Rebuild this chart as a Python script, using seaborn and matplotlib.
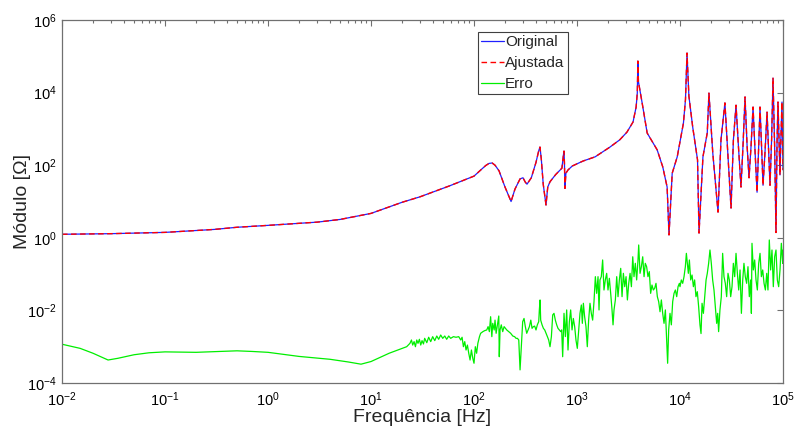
import numpy as np
import matplotlib
matplotlib.use("Agg")
import matplotlib.pyplot as plt
import pandas as pd
import seaborn as sns
from matplotlib.ticker import LogLocator, NullLocator, NullFormatter

# ---------------------------------------------------------------------------
# data
# ---------------------------------------------------------------------------

# measured impedance (Original) and fitted (Ajustada) - practically the same curve
freq_orig = [0.01, 0.03, 0.1, 0.3, 0.5, 1, 3, 5, 10, 20, 30, 58, 100, 120, 130, 140, 150, 160,
             175, 200, 229, 250, 280, 299, 315, 327, 360, 400, 425, 437, 450, 470, 500, 520,
             547, 620, 690, 714, 740, 748, 755, 764, 780, 818, 900, 1143, 1500, 2090, 2600,
             3055, 3500, 3750, 3850, 3900, 3950, 4300, 4800, 6000, 6800, 7500, 7820, 8400,
             9400, 10800, 11300, 11700, 12200, 13300, 14800, 15300, 16700, 18400, 19100,
             20800, 23400, 25000, 27300, 29000, 31300, 33000, 35000, 37000, 39100, 41000,
             42800, 44800, 46800, 49000, 51200, 53500, 56000, 58000, 59800, 62000, 64000,
             67000, 70000, 72500, 74800, 77500, 80000, 83000, 85500, 87500, 89400, 91500,
             93500, 95500, 97800, 100000]
mod_orig = [1.25, 1.3, 1.41, 1.7, 1.95, 2.2, 2.7, 3.2, 4.7, 9.5, 13.5, 27, 50, 80, 98, 112, 115,
            100, 70, 25, 10, 22, 42, 45, 34, 30, 45, 120, 250, 316, 150, 30, 8, 25,
            35, 55, 75, 83, 200, 245, 120, 23, 60, 74, 95, 130, 170, 316, 500,
            815, 1550, 4000, 9800, 74000, 20000, 5000, 770, 265, 90, 25, 1.2, 60,
            170, 1450, 6300, 123000, 8000, 1100, 140, 1.35, 170, 780, 9700,
            220, 5.1, 500, 5200, 260, 6.6, 500, 4500, 300, 25, 400,
            7600, 350, 45, 350, 4000, 250, 18, 300, 4000, 300, 28,
            250, 2900, 250, 28, 500, 25000, 300, 1.4, 400, 5500, 500,
            54, 600, 5500, 74]

# fit error (Erro): (frequency [Hz], module [Ohm])
err_points = [
    (0.01, 1.17e-3), (0.015, 9.0e-4), (0.02, 6.6e-4), (0.028, 4.3e-4), (0.035, 4.8e-4),
    (0.05, 6.0e-4), (0.07, 6.8e-4), (0.1, 7.2e-4), (0.2, 7.0e-4), (0.3, 7.3e-4),
    (0.5, 7.7e-4), (0.7, 7.4e-4), (1, 7.0e-4), (2, 5.4e-4), (4, 4.5e-4), (6, 3.8e-4),
    (8, 3.3e-4), (10, 3.9e-4), (15, 6.6e-4), (19.1, 8.5e-4), (22.2, 1.0e-3),
    (23.9, 1.24e-3), (24.7, 1.53e-3), (25.4, 1.11e-3), (26.2, 1.38e-3), (27.0, 1.0e-3),
    (27.8, 1.53e-3), (28.6, 1.24e-3), (29.5, 1.60e-3), (30.4, 1.11e-3), (31.3, 1.47e-3),
    (32.3, 1.19e-3), (33.2, 1.70e-3), (34.8, 1.29e-3), (36.3, 1.82e-3), (38.0, 1.38e-3),
    (39.7, 1.89e-3), (41.6, 1.47e-3), (43.5, 1.97e-3), (45.4, 1.60e-3), (47.5, 2.10e-3),
    (49.7, 1.70e-3), (52.0, 1.97e-3), (54.3, 1.60e-3), (56.8, 1.97e-3), (59.4, 1.70e-3),
    (63.1, 1.89e-3), (66.9, 1.82e-3), (71.1, 1.89e-3), (74.3, 1.53e-3), (76.6, 1.82e-3),
    (78.9, 1.0e-3), (81.3, 1.38e-3), (83.7, 8.1e-4), (86.3, 1.11e-3), (88.9, 6.6e-4),
    (91.6, 4.3e-4), (94.4, 8.1e-4), (97.3, 4.8e-4), (100, 3.5e-4), (103, 1.0e-3),
    (106, 6.6e-4), (109, 1.24e-3), (113, 1.89e-3), (116, 2.34e-3), (122, 2.60e-3),
    (127, 2.77e-3), (133, 2.89e-3), (137, 3.57e-3), (141, 2.60e-3), (145, 6.7e-3),
    (149, 1.89e-3), (152, 4.4e-3), (157, 2.89e-3), (160, 5.4e-3), (164, 2.34e-3),
    (169, 4.0e-3), (174, 7.0e-3), (176, 5.3e-4), (179, 2.89e-3), (184, 4.0e-3),
    (190, 2.60e-3), (196, 3.57e-3), (202, 3.2e-3), (208, 2.89e-3), (217, 2.60e-3),
    (227, 2.34e-3), (238, 1.97e-3), (248, 1.89e-3), (256, 1.70e-3), (264, 1.70e-3),
    (272, 1.53e-3), (280, 2.3e-4), (288, 1.0e-3), (297, 4.9e-3), (306, 6.0e-3),
    (315, 3.57e-3), (325, 2.34e-3), (335, 2.89e-3), (345, 3.57e-3), (356, 5.4e-3),
    (366, 3.2e-3), (377, 3.57e-3), (388, 3.7e-3), (400, 2.89e-3), (412, 4.0e-3),
    (425, 4.9e-3), (431, 0.0103), (438, 0.0194), (444, 5.4e-3), (458, 4.0e-3),
    (472, 3.2e-3), (486, 2.89e-3), (501, 2.34e-3), (516, 1.89e-3), (531, 1.53e-3),
    (547, 1.0e-3), (564, 1.89e-3), (581, 7.5e-3), (598, 8.3e-3), (616, 5.4e-3),
    (635, 4.0e-3), (654, 3.2e-3), (674, 2.89e-3), (695, 2.60e-3), (710, 2.9e-3),
    (726, 5.3e-4), (748, 8.3e-3), (771, 1.9e-3), (794, 0.0103), (818, 8.1e-4),
    (843, 4.9e-3), (868, 0.0103), (895, 2.9e-3), (921, 6.0e-3), (949, 3.6e-3),
    (978, 1.5e-3), (1007, 9.0e-4), (1038, 2.9e-3), (1069, 8.3e-3), (1102, 0.0141),
    (1127, 4.4e-3), (1153, 0.0157), (1186, 6.7e-3), (1222, 3.6e-3), (1259, 1.0e-3),
    (1297, 5.4e-3), (1337, 0.0157), (1377, 8.3e-3), (1419, 5.4e-3), (1462, 0.0174),
    (1507, 0.085), (1552, 0.0295), (1600, 0.085), (1636, 0.0103), (1671, 0.069),
    (1722, 0.085), (1774, 0.245), (1828, 0.0365), (1884, 0.069), (1941, 0.105),
    (2000, 0.0365), (2061, 0.0765), (2123, 0.0295), (2188, 0.0103), (2238, 4.0e-3),
    (2287, 0.0103), (2357, 0.0194), (2429, 0.085), (2502, 0.0239), (2578, 0.069),
    (2657, 0.144), (2737, 0.0239), (2820, 0.105), (2906, 0.045), (2994, 0.085),
    (3085, 0.0194), (3179, 0.0557), (3275, 0.105), (3375, 0.045), (3477, 0.30),
    (3576, 0.085), (3683, 0.198), (3795, 0.069), (3910, 0.245), (3972, 0.634),
    (4093, 0.105), (4217, 0.160), (4345, 0.30), (4477, 0.085), (4603, 0.198),
    (4742, 0.160), (4887, 0.085), (5035, 0.117), (5188, 0.0295), (5346, 0.050),
    (5508, 0.0365), (5675, 0.0406), (5848, 0.0557), (6026, 0.0239), (6209, 0.0174),
    (6397, 9.2e-3), (6592, 0.0194), (6792, 8.3e-3), (6998, 4.4e-3), (7211, 0.0103),
    (7430, 1.5e-3), (7586, 3.5e-4), (7762, 2.9e-3), (7998, 8.3e-3), (8241, 4.0e-3),
    (8492, 0.0174), (8750, 0.0295), (9016, 0.0365), (9290, 0.0239), (9572, 0.045),
    (9863, 0.0557), (10000, 0.045), (10300, 0.069), (10620, 0.0557), (10940, 0.085),
    (11270, 0.160), (11530, 0.373), (11780, 0.198), (12050, 0.105), (12330, 0.245),
    (12700, 0.069), (13090, 0.0944), (13490, 0.045), (13870, 0.069), (14290, 0.0239),
    (14720, 0.0328), (15170, 0.0127), (15630, 4.0e-3), (16000, 2.3e-3), (16370, 0.0157),
    (16870, 8.3e-3), (17380, 0.0239), (17910, 0.069), (18410, 0.105), (18970, 0.198),
    (19540, 0.461), (20140, 0.198), (20750, 0.069), (21380, 0.0365), (22030, 0.0127),
    (22700, 4.4e-3), (23230, 8.3e-3), (23710, 2.6e-3), (24430, 0.0103), (25180, 0.0239),
    (25940, 0.373), (26730, 0.085), (27540, 0.0557), (28380, 0.0239), (29240, 0.105),
    (30130, 0.069), (31050, 0.0239), (31990, 0.045), (32960, 0.198), (33960, 0.085),
    (34990, 0.373), (36060, 0.105), (37150, 0.0365), (38280, 0.130), (39450, 8.3e-3),
    (40640, 0.069), (41780, 0.198), (43050, 0.085), (44360, 0.0557), (45710, 0.160),
    (47100, 0.0239), (48530, 0.069), (49320, 8.3e-3), (50000, 0.705), (51520, 0.130),
    (53090, 0.245), (54700, 0.069), (56360, 0.0365), (58080, 0.198), (59840, 0.373),
    (61660, 0.085), (63530, 0.130), (65460, 0.0557), (67450, 0.0365), (69500, 0.105),
    (71450, 0.0365), (73620, 0.871), (75860, 0.130), (78160, 0.461), (80540, 0.045),
    (82990, 0.30), (85510, 0.461), (88100, 0.069), (90780, 0.045), (93540, 0.130),
    (96380, 0.705), (99310, 0.198), (100000, 0.461),
]

x_ticks = [1e-2, 1e-1, 1e0, 1e1, 1e2, 1e3, 1e4, 1e5]
y_ticks = [1e-4, 1e-2, 1e0, 1e2, 1e4, 1e6]

df_orig = pd.DataFrame({"f": freq_orig, "m": mod_orig})
df_err = pd.DataFrame(err_points, columns=["f", "m"])

# ---------------------------------------------------------------------------
sns.set_style("white")
plt.rcParams["font.family"] = ["Liberation Sans", "DejaVu Sans"]
plt.rcParams["mathtext.default"] = "regular"

fig = plt.figure(figsize=(7.98, 4.30), dpi=100)
ax = fig.add_axes([0.0777, 0.1093, 0.9035, 0.8442])

sns.lineplot(data=df_orig, x="f", y="m", ax=ax, color="#2020ff", lw=0.9,
             estimator=None, sort=False, label="Original")
sns.lineplot(data=df_orig, x="f", y="m", ax=ax, color="#ff0000", lw=1.0,
             estimator=None, sort=False, label="Ajustada", dashes=False,
             linestyle=(0, (4, 2.5)))
sns.lineplot(data=df_err, x="f", y="m", ax=ax, color="#00ee00", lw=0.9,
             estimator=None, sort=False, label="Erro")

ax.set_xscale("log")
ax.set_yscale("log")
ax.set_xlim(1e-2, 1e5)
ax.set_ylim(1e-4, 1e6)
ax.set_xticks(x_ticks)
ax.xaxis.set_minor_locator(LogLocator(base=10, subs=np.arange(2, 10), numticks=20))
ax.xaxis.set_minor_formatter(NullFormatter())
ax.set_yticks(y_ticks)
ax.yaxis.set_minor_locator(NullLocator())

ax.tick_params(which="both", direction="in", top=True, right=True, colors="#707070",
               labelcolor="black", labelsize=10.5)
ax.tick_params(which="major", length=4, width=0.8)
ax.tick_params(which="minor", length=2.5, width=0.8)
ax.tick_params(axis="x", pad=5)
ax.tick_params(axis="y", pad=4)
for s in ax.spines.values():
    s.set_color("#707070")
    s.set_linewidth(0.9)

ax.set_xlabel("Frequência [Hz]", fontsize=14, labelpad=0)
ax.set_ylabel("Módulo [Ω]", fontsize=14, labelpad=-3)

leg = ax.legend(loc="upper left", bbox_to_anchor=(0.577, 0.967), borderaxespad=0,
                fontsize=11, frameon=True, fancybox=False, framealpha=1,
                handlelength=1.5, handletextpad=0.05, labelspacing=0.45,
                borderpad=0.22)
leg.get_frame().set_edgecolor("#404040")
leg.get_frame().set_linewidth(0.8)

fig.savefig("out.png", dpi=100)
